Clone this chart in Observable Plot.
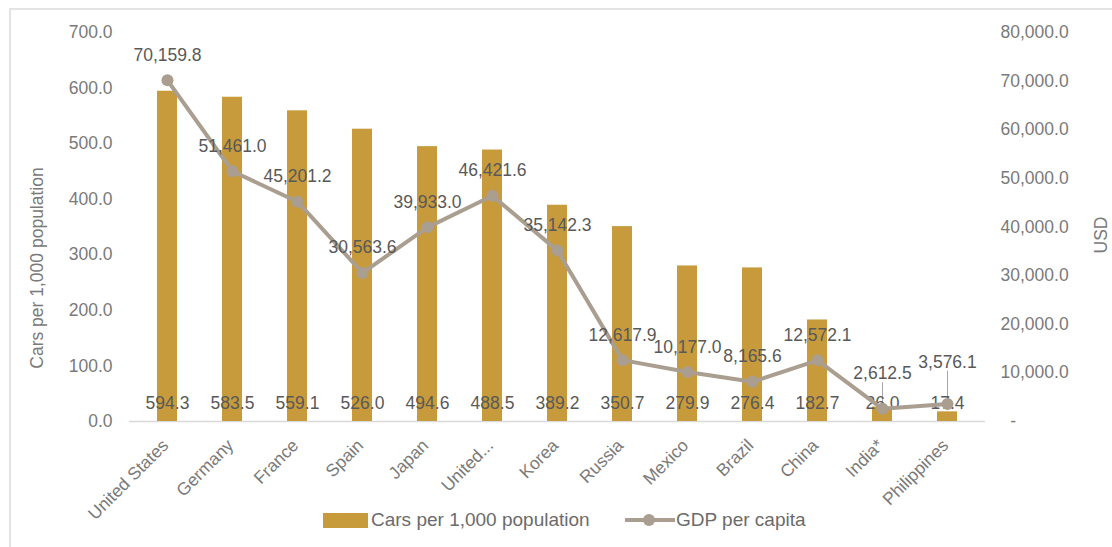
<!DOCTYPE html>
<html>
<head>
<meta charset="utf-8">
<script src="https://cdn.jsdelivr.net/npm/d3@7"></script>
<script src="https://cdn.jsdelivr.net/npm/@observablehq/plot@0.6"></script>
<style>
  html, body { margin: 0; padding: 0; background: #fff; }
  body { width: 1112px; height: 547px; position: relative; overflow: hidden; font-family: "Liberation Sans", Arial, sans-serif; }
  #frame { position: absolute; left: 9px; top: 8px; width: 1200px; height: 600px; border-top: 2px solid #e3e3e3; border-left: 2px solid #e3e3e3; }
  #chart { position: absolute; left: 0; top: 0; }
  #legend { position: absolute; top: 508px; left: 0; width: 1112px; height: 24px; font-size: 19px; color: #6b6b6b; }
  .item { position: absolute; top: 0; display: flex; align-items: center; height: 24px; white-space: nowrap; }
  .sw { display: inline-block; width: 45px; height: 15px; background: #C79A3B; margin-right: 3px; }
</style>
</head>
<body>
<div id="frame"></div>
<div id="chart"></div>
<div id="legend">
  <div class="item" style="left:323px"><span class="sw"></span><span>Cars per 1,000 population</span></div>
  <div class="item" style="left:625px">
    <svg width="50" height="24" style="margin-right:1px"><line x1="0" y1="12" x2="50" y2="12" stroke="#A99E8F" stroke-width="4"/><circle cx="24" cy="12" r="6" fill="#A99E8F"/></svg>
    <span>GDP per capita</span>
  </div>
</div>
<script>
const countries = ["United States","Germany","France","Spain","Japan","United...","Korea","Russia","Mexico","Brazil","China","India*","Philippines"];
const carsPer1000 = [594.3,583.5,559.1,526.0,494.6,488.5,389.2,350.7,279.9,276.4,182.7,26.0,17.4];
const gdpPerCapita = [70159.8,51461.0,45201.2,30563.6,39933.0,46421.6,35142.3,12617.9,10177.0,8165.6,12572.1,2612.5,3576.1];
const leftTicks = [0,100,200,300,400,500,600,700];
const rightTicks = [0,10000,20000,30000,40000,50000,60000,70000,80000];

const data = countries.map((c, i) => ({country: c, cars: carsPer1000[i], gdp: gdpPerCapita[i]}));
const toLeft = v => v * 700 / 80000;
const f1 = d3.format(",.1f");
const barColor = "#C79A3B";
const lineColor = "#A99E8F";
const tickColor = "#7a7a7a";
const labelColor = "#595959";
const fs = 17.5;

// label lift (px) for GDP labels; two labels are pulled further up with leader lines
const liftPx = {"India*": 35, "Philippines": 42};
const pxPerUnit = 389 / 700;
const lift = d => liftPx[d.country] ?? 25;
const leaders = data.filter(d => liftPx[d.country]);

const chart = Plot.plot({
  width: 1112,
  height: 500,
  marginLeft: 129,
  marginRight: 127,
  marginTop: 32,
  marginBottom: 79,
  style: {fontFamily: "'Liberation Sans', Arial, sans-serif", fontSize: fs + "px", background: "transparent", overflow: "visible"},
  x: {type: "band", domain: countries, paddingInner: 0.69, paddingOuter: 0.345, axis: null},
  y: {domain: [0, 700], axis: null},
  marks: [
    Plot.axisY({anchor: "left", ticks: leftTicks, tickFormat: d3.format(".1f"), tickSize: 0, tickPadding: 17, label: null, fill: tickColor, fontSize: fs}),
    Plot.axisY({anchor: "right", ticks: rightTicks.map(toLeft), tickFormat: d => { const v = d * 80000 / 700; return v === 0 ? "\u00a0\u00a0-" : f1(v); }, tickSize: 0, tickPadding: 15, textAnchor: "start", label: null, fill: tickColor, fontSize: fs}),
    Plot.text(["Cars per 1,000 population"], {frameAnchor: "left", textAnchor: "middle", dx: -92, dy: 41, rotate: -90, fill: tickColor, fontSize: fs}),
    Plot.text(["USD"], {frameAnchor: "right", textAnchor: "middle", dx: 116, dy: 8, rotate: -90, fill: tickColor, fontSize: fs}),
    Plot.ruleY([0], {stroke: "#d9d9d9", strokeWidth: 1.5}),
    Plot.barY(data, {x: "country", y: "cars", fill: barColor}),
    Plot.ruleX(leaders, {x: "country", y1: d => toLeft(d.gdp), y2: d => toLeft(d.gdp) + (lift(d) - 9) / pxPerUnit, stroke: "#a6a6a6", strokeWidth: 1}),
    Plot.text(data, {x: "country", y: () => 0, text: d => d3.format(".1f")(d.cars), dy: -18, fill: labelColor, fontSize: fs}),
    Plot.line(data, {x: "country", y: d => toLeft(d.gdp), stroke: lineColor, strokeWidth: 4}),
    Plot.dot(data, {x: "country", y: d => toLeft(d.gdp), r: 6, fill: lineColor}),
    Plot.text(data, {x: "country", y: d => toLeft(d.gdp) + lift(d) / pxPerUnit, text: d => f1(d.gdp), fill: labelColor, fontSize: fs}),
    Plot.text(countries, {x: d => d, frameAnchor: "bottom", rotate: -45, textAnchor: "end", dx: 2, dy: 25, fill: tickColor, fontSize: fs})
  ]
});
document.getElementById("chart").appendChild(chart);
</script>
</body>
</html>
